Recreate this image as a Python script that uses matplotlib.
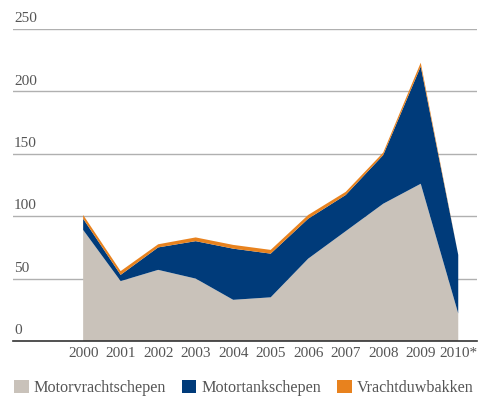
import matplotlib.pyplot as plt
from matplotlib.patches import Patch
from matplotlib.transforms import blended_transform_factory

years = [2000, 2001, 2002, 2003, 2004, 2005, 2006, 2007, 2008, 2009, 2010]
year_labels = ['2000', '2001', '2002', '2003', '2004', '2005', '2006', '2007', '2008', '2009', '2010*']
motorvracht = [89, 48, 57, 50, 33, 35, 66, 88, 110, 126, 22]
motortank = [9, 5, 18, 30, 41, 35, 32, 29, 39, 94, 47]
duwbakken = [3, 3, 2.5, 3, 3, 3, 3, 2.5, 2, 3, 0]
series_names = ['Motorvrachtschepen', 'Motortankschepen', 'Vrachtduwbakken']
y_ticks = [0, 50, 100, 150, 200, 250]

colors = ['#c9c2ba', '#003b7a', '#e8821e']
text_color = '#555555'
font = 'Liberation Serif'

fig = plt.figure(figsize=(4.78, 4.0), dpi=100)
ax = fig.add_axes([13 / 478, 1 - 341 / 400, 464 / 478, 312 / 400])

ax.stackplot(years, motorvracht, motortank, duwbakken, colors=colors, linewidth=0)

ax.set_xlim(1998.13, 2010.5)
ax.set_ylim(0, 250)

trans = blended_transform_factory(ax.transAxes, ax.transData)
for v in y_ticks:
    if v > 0:
        ax.axhline(v, color='#b0b0b0', lw=1.0, zorder=0)
    ax.text(0.002, v + 3, str(v), transform=trans, ha='left', va='bottom',
            fontsize=11, color=text_color, family=font)
ax.axhline(0, color='#333333', lw=1.2, zorder=3, clip_on=False)

ax.set_yticks([])
ax.set_xticks(years)
ax.set_xticklabels(year_labels, fontsize=11, color=text_color, family=font)
ax.tick_params(axis='x', length=0, pad=4)
for s in ax.spines.values():
    s.set_visible(False)

handles = [Patch(facecolor=c, edgecolor='none') for c in colors]
fig.legend(handles, series_names, loc='lower left', bbox_to_anchor=(14 / 478, 4 / 400),
           ncol=3, frameon=False, handlelength=0.9, handleheight=0.9,
           handletextpad=0.3, columnspacing=1.0, borderpad=0, borderaxespad=0,
           prop={'family': font, 'size': 11.6}, labelcolor=text_color)

fig.savefig('out.png', dpi=100)
